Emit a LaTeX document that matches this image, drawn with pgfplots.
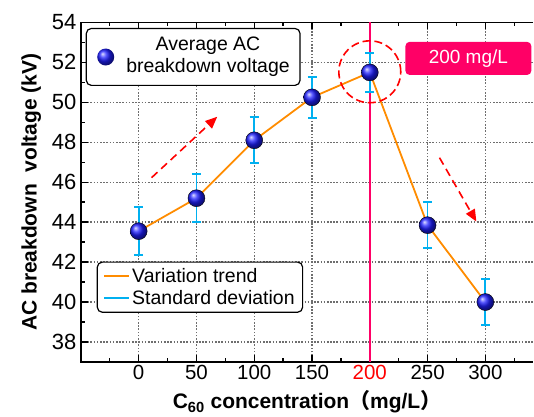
\documentclass[border=0pt]{standalone}
\usepackage{fontspec}
\setmainfont{Liberation Sans}
\newfontfamily\cjk{Noto Sans CJK SC}
\usepackage{pgfplots}
\pgfplotsset{compat=1.18}
\usetikzlibrary{arrows.meta,shadings}
\definecolor{trend}{RGB}{255,140,0}
\definecolor{sdev}{RGB}{0,176,240}
\definecolor{hot}{RGB}{255,0,102}
\definecolor{gridc}{RGB}{110,110,110}
\definecolor{ballc}{RGB}{30,30,255}

\pgfplotstableread{
x   y      e
0   43.55  1.2
50  45.2   1.2
100 48.1   1.15
150 50.25  1.03
200 51.5   0.98
250 43.85  1.15
300 40.0   1.15
}\bdv

\begin{document}
\begin{tikzpicture}
\begin{axis}[
    scale only axis, width=453bp, height=340bp,
    xmin=-50, xmax=341.4, ymin=37, ymax=54,
    axis line style={draw=none},
    xtick pos=both, ytick pos=left,
    tick align=inside,
    major tick length=7bp, minor tick length=4bp,
    tick style={black, line width=1.4bp},
    xtick={0,50,...,300},
    xticklabels={0,50,100,150,{\color{red}200},250,300},
    minor xtick={-25,25,...,325},
    ytick={38,40,...,54}, minor ytick={37,39,...,53},
    grid=major,
    major grid style={gridc, line width=1.4bp, dash pattern=on 1.6bp off 1.6bp},
    /pgf/number format/assume math mode=true,
    xticklabel style={font=\fontsize{20.5bp}{24bp}\selectfont},
    yticklabel style={font=\fontsize{22bp}{26bp}\selectfont, xshift=-1bp},
    xlabel={\bfseries C\textsubscript{60} concentration{\cjk （}mg/L{\cjk ）}},
    ylabel={\bfseries AC breakdown \ voltage (kV)},
    label style={font=\fontsize{21bp}{25bp}\selectfont},
    xlabel style={yshift=-4bp},
    ylabel style={yshift=4bp},
    clip=false,
    legend style={at={(axis cs:-36.3,42.03)}, anchor=north west, draw=black,
        line width=1.2bp, rounded corners=5bp,
        font=\fontsize{19.5bp}{23bp}\selectfont,
        inner xsep=6bp, inner ysep=4bp, row sep=3bp,
        /tikz/every even column/.append style={column sep=16bp}},
    legend cell align=left,
    legend image code/.code={\draw[line width=2bp,#1] (0bp,0bp) -- (25bp,0bp);},
]
% frame: top, left and bottom only (no right spine in the original)
\draw[black, line width=1.6bp] (axis cs:341.4,54) -- (axis cs:-50,54)
    -- (axis cs:-50,37) -- (axis cs:341.4,37);
\draw[hot, line width=2bp] (axis cs:200,37) -- (axis cs:200,54);

\addplot[trend, line width=1.8bp] table[x=x, y=y] {\bdv};
\addlegendentry{Variation trend}

\addplot[sdev, only marks, mark=none,
    legend image code/.code={\draw[sdev, line width=2bp] (0bp,0bp) -- (25bp,0bp);},
    error bars/.cd, y dir=both, y explicit,
    error bar style={sdev, line width=1.8bp},
    error mark options={sdev, rotate=90, mark size=4.5bp, line width=1.8bp}]
    table[x=x, y=y, y error=e] {\bdv};
\addlegendentry{Standard deviation}

\addplot[only marks, mark=ball, ball color=ballc, mark size=8.5bp, forget plot]
    table[x=x, y=y] {\bdv};

% annotations
\draw[red, line width=1.6bp, dash pattern=on 8bp off 4bp] (axis cs:200,51.53) circle (31bp);
\draw[red, line width=1.6bp, dash pattern=on 8bp off 5bp, -{Triangle[length=12bp,width=10bp]}]
    (axis cs:11.2,46.23) -- (axis cs:68,49.28);
\draw[red, line width=1.6bp, dash pattern=on 8bp off 5bp, -{Triangle[length=12bp,width=10bp]}]
    (axis cs:260.3,47.23) -- (axis cs:292.2,44.03);
\node[fill=hot, rounded corners=4bp, minimum width=126bp, minimum height=33bp,
    text=white, font=\fontsize{19bp}{22bp}\selectfont]
    at (axis cs:285.3,52.2) {200 mg/L};
\node[draw=black, line width=1.2bp, rounded corners=5bp, fill=white,
    minimum width=214bp, minimum height=57bp, anchor=north west]
    at (axis cs:-45.8,53.73) {};
\shade[ball color=ballc] (axis cs:-28.5,52.27) circle (8.5bp);
\node[align=center, font=\fontsize{19.5bp}{22bp}\selectfont]
    at (axis cs:60,52.27) {Average AC\\breakdown voltage};
\end{axis}
\path ([shift={(-81bp,-52.5bp)}]current axis.south west)
    rectangle ([shift={(0bp,22.5bp)}]current axis.north east);
\end{tikzpicture}
\end{document}
